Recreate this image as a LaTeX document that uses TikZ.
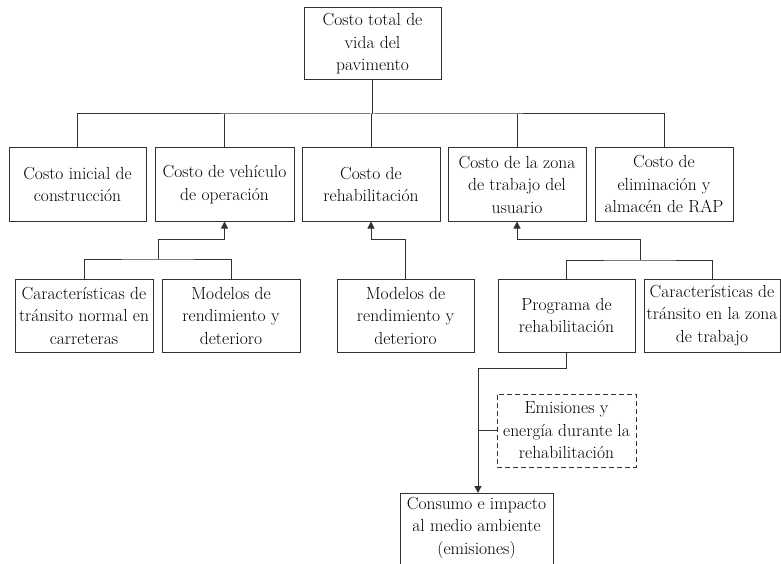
\documentclass[tikz,border=0pt]{standalone}
\usetikzlibrary{arrows.meta}
\definecolor{linegray}{RGB}{50,50,50}
\begin{document}
\begin{tikzpicture}[x=1pt,y=-1pt,
  box/.style={draw=linegray,line width=1pt,rectangle,inner sep=0pt,
    minimum height=73pt,align=center,font=\fontsize{17.5}{22.5}\selectfont,text=black},
  link/.style={draw=linegray,line width=1pt},
  arr/.style={link,-{Triangle[length=7pt,width=7pt]}}]
\useasboundingbox (0,0) rectangle (781,564);

% top level
\node[box,minimum width=137pt,minimum height=72pt] (total) at (372.5,44) {Costo total de\\vida del\\pavimento};

% second level
\node[box,minimum width=137pt] (ini) at (77.5,184.5) {Costo inicial de\\construcción};
\node[box,minimum width=139pt] (veh) at (224.5,184.5) {Costo de vehículo\\de operación};
\node[box,minimum width=138pt] (reh) at (371,184.5) {Costo de\\rehabilitación};
\node[box,minimum width=138pt] (zona) at (517,184.5) {Costo de la zona\\de trabajo del\\usuario};
\node[box,minimum width=138pt] (elim) at (664,184.5) {Costo de\\eliminación y\\almacén de RAP};

% third level
\node[box,minimum width=138pt] (car) at (84,315.5) {Características de\\tránsito normal en\\carreteras};
\node[box,minimum width=138pt] (mod1) at (231,315.5) {Modelos de\\rendimiento y\\deterioro};
\node[box,minimum width=137pt] (mod2) at (405.5,315.5) {Modelos de\\rendimiento y\\deterioro};
\node[box,minimum width=137pt] (prog) at (566.5,315.5) {Programa de\\rehabilitación};
\node[box,minimum width=136pt] (carz) at (712,315.5) {Características de\\tránsito en la zona\\de trabajo};

% emissions
\node[box,dash pattern=on 5pt off 3pt,minimum width=139pt] (emi) at (566.5,430.5) {Emisiones y\\energía durante la\\rehabilitación};
\node[align=center,font=\fontsize{17.5}{22.5}\selectfont,text=black] (cons) at (476.5,528) {Consumo e impacto\\al medio ambiente\\(emisiones)};
\coordinate (consTL) at (400,493);
\coordinate (consTR) at (553,493);
\draw[link] (400,564) -- (consTL) -- (consTR) -- (553,564);

% tree from the total cost
\coordinate (bus) at (372.5,114);
\draw[link] (total.south) -- (bus);
\draw[link] (ini.north) |- (bus) -| (elim.north);
\draw[link] (veh.north) -- (veh.north |- bus);
\draw[link] (reh.north) -- (reh.north |- bus);
\draw[link] (zona.north) -- (zona.north |- bus);

% inputs to vehicle operating cost
\coordinate (b1) at (158,259);
\draw[link] (car.north) |- (b1) -| (mod1.north);
\draw[arr] (b1) -- (158,239) -| (veh.south);

% input to rehabilitation cost
\draw[arr] (mod2.north) -- (405.5,239) -| (reh.south);

% inputs to work zone user cost
\coordinate (b2) at (640,260);
\draw[link] (prog.north) |- (b2) -| (carz.north);
\draw[arr] (b2) -- (640,239) -| (zona.south);

% rehabilitation program to environmental impact
\coordinate (j) at (478,368);
\draw[link] (prog.south) |- (j);
\draw[arr] (j) -- (478,493);
\draw[link] (emi.west) -- (478,430.5);
\end{tikzpicture}
\end{document}
